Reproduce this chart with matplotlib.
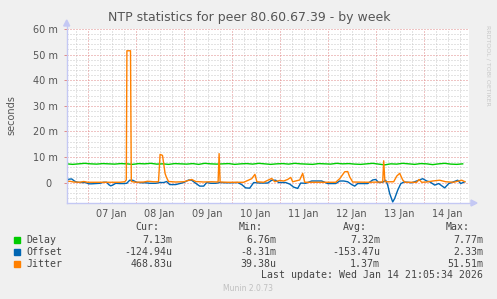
import numpy as np
import matplotlib
matplotlib.use("Agg")
import matplotlib.pyplot as plt
from matplotlib.patches import Rectangle, Polygon
from matplotlib.lines import Line2D

# ---- data (hours since 07 Jan 00:00, values in milliseconds) ----
day_labels = ["07 Jan", "08 Jan", "09 Jan", "10 Jan", "11 Jan", "12 Jan", "13 Jan", "14 Jan"]
ytick_vals = [0, 10, 20, 30, 40, 50, 60]
ytick_labels = ["0  ", "10 m", "20 m", "30 m", "40 m", "50 m", "60 m"]

delay_hours = np.arange(-10.5, 190, 3)
delay_vals = [7.3, 7.1, 7.3, 7.5, 7.3, 7.2, 7.4, 7.3, 7.2, 7.4,
              7.3, 7.1, 7.4, 7.3, 7.5, 7.2, 7.3, 7.1, 7.4, 7.3,
              7.2, 7.4, 7.1, 7.5, 7.3, 7.2, 7.3, 7.4, 7.1, 7.3,
              7.4, 7.2, 7.5, 7.3, 7.1, 7.3, 7.4, 7.2, 7.5, 7.3,
              7.2, 7.1, 7.4, 7.3, 7.2, 7.5, 7.3, 7.4, 7.2, 7.1,
              7.3, 7.5, 7.2, 6.9, 7.3, 7.2, 7.5, 7.3, 7.1, 7.4,
              7.3, 7.0, 7.3, 7.5, 7.2, 7.1, 7.3]

offset_hours = [-10.5, -9.5, -8, -6.5, -5, -3, -1, 0.5, 2, 4, 6, 8, 9.5, 10.5, 11.5,
                12.5, 14, 16, 18, 19.5, 21, 22.5, 24.5, 27, 29, 31, 34, 36, 38, 39.5,
                41, 44, 46, 48, 50.5, 52, 53.5, 56, 58, 59.5, 61.5, 64, 66, 69, 72,
                75, 77, 79, 81, 83, 86, 90, 92, 94, 95.5, 99, 101, 103, 105, 106.5,
                109, 112, 113.5, 117, 120, 124, 126, 128, 130, 132, 133.5, 135, 140,
                142.5, 144, 145.5, 147.5, 149, 150, 151, 152.5, 153.5, 155, 156.5, 158,
                160, 162, 164.5, 167.5, 169.5, 171, 173.5, 175.5, 178.5, 180.5, 183,
                185, 186.5, 188.5]
offset_vals = [0.6, 1.3, 1.4, 0.5, 0.1, 0.0, 0.0, -0.5, -0.5, -0.4, -0.3, 0.1, 0.1, -0.8, -1.3,
               -1.0, -0.3, -0.4, -0.4, -0.3, 0.9, 0.9, 0.1, -0.1, -0.1, -0.3, -0.3, 0.0, 0.0, 0.4,
               -0.8, -0.8, -0.4, 0.0, 1.0, 0.9, 0.0, -1.4, -1.4, 0.0, -0.3, -0.3, 0.0, -0.1, -0.1,
               0.0, -0.8, -2.1, -2.2, 0.0, -0.2, -0.2, 0.9, 0.9, 0.0, 0.0, -0.6, -1.8, -2.3, -0.2,
               -0.3, 0.6, 0.6, 0.6, -0.4, -0.4, 0.6, 0.6, 0.3, -0.8, -1.4, -0.4, -0.4,
               1.0, 1.2, 0.0, 0.1, 0.9, -1.0, -4.3, -7.6, -6.2, -3.0, -0.5, 0.2,
               0.1, -0.1, 0.6, 1.5, 0.6, 0.3, -1.0, -0.4, -2.1, -0.4, 0.3,
               0.9, -0.4, 0.3]

jitter_hours = [-10.5, -9, -7, -4, -2, 0, 4, 8, 12, 16, 18.5, 19.3, 19.6, 21.4, 21.8, 24,
                28, 30, 33, 35.4, 36.2, 37.4, 38.7, 39.4, 40.4, 44, 48, 52, 54, 58, 62,
                65.2, 65.7, 66.2, 70, 74, 78, 82, 83.6, 84.6, 88, 92, 93.5, 96, 98, 100,
                101.5, 102.5, 106, 107.5, 108.5, 112, 116, 124, 126, 128.5, 130, 131,
                132.5, 140, 147.5, 148, 148.6, 150, 153, 154.5, 156, 157.5, 158.6, 164.5,
                165.7, 167, 169.5, 172.5, 176, 179, 183, 185.5, 187, 188.6]
jitter_vals = [0.3, 0.5, 0.2, 0.1, 0.4, 0.1, 0.1, 0.1, 0.1, 0.1, 0.3, 1.0, 51.5, 51.5, 0.4, 0.1,
               0.2, 0.5, 0.3, 0.3, 11.0, 10.6, 3.5, 2.0, 0.4, 0.2, 0.3, 1.2, 0.4, 0.2, 0.3,
               0.2, 11.3, 0.2, 0.1, 0.1, 0.1, 1.5, 3.2, 0.3, 0.1, 1.6, 0.3, 0.8, 0.6, 1.2,
               2.0, 0.3, 1.0, 3.6, 0.1, 0.1, 0.1, 0.1, 1.5, 4.2, 4.3, 2.2,
               0.2, 0.1, 0.2, 8.5, 0.3, 0.3, 0.3, 2.5, 3.6, 1.0, 0.1, 0.1,
               1.2, 0.1, 0.2, 0.6, 0.9, 0.3, 0.1, 0.6, 0.9, 0.3]

legend_names = ["Delay", "Offset", "Jitter"]
legend_colors = ["#00CC00", "#0066B3", "#FF8000"]
cur_vals = ["7.13m", "-124.94u", "468.83u"]
min_vals = ["6.76m", "-8.31m", "39.38u"]
avg_vals = ["7.32m", "-153.47u", "1.37m"]
max_vals = ["7.77m", "2.33m", "51.51m"]

# ---- figure ----
W, H = 497, 299
fig = plt.figure(figsize=(W / 100, H / 100), dpi=100, facecolor="#F0F0F0")

def fx(x):
    return x / W

def fy(y):
    return 1 - y / H

x0, x1, ytop, ybot = 66.7, 468.5, 29, 203
ax = fig.add_axes([fx(x0), fy(ybot), (x1 - x0) / W, (ybot - ytop) / H])
ax.set_facecolor("white")
ax.set_xlim(-10.5, 190.4)
ax.set_ylim(-8, 60)
for s in ax.spines.values():
    s.set_visible(False)

# grid (dotted lines)
minor_col = "#C8C8C8"
major_col = "#E08A8A"
gkw = dict(lw=0.72, dashes=(1, 2))
for yv in np.arange(-8, 61, 2):
    if yv % 10 != 0:
        ax.axhline(yv, color=minor_col, zorder=0, **gkw)
for xv in np.arange(-6, 191, 6):
    if xv % 24 != 0:
        ax.axvline(xv, color=minor_col, zorder=0, **gkw)
for yv in ytick_vals:
    ax.axhline(yv, color=major_col, zorder=0.5, **gkw)
for xv in range(0, 169, 24):
    ax.axvline(xv, color=major_col, zorder=0.5, **gkw)

# data
ax.plot(delay_hours, delay_vals, color=legend_colors[0], lw=1.0, zorder=3)
ax.plot(offset_hours, offset_vals, color=legend_colors[1], lw=1.0, zorder=4)
ax.plot(jitter_hours, jitter_vals, color=legend_colors[2], lw=1.0, zorder=5)

# ticks
label_pos = [12 + 24 * i for i in range(len(day_labels))]
ax.set_xticks(label_pos)
ax.set_xticklabels(day_labels)
ax.set_yticks(ytick_vals)
ax.set_yticklabels(ytick_labels)
ax.tick_params(axis="x", length=0, pad=4, labelsize=7, labelcolor="#555555")
ax.tick_params(axis="y", length=2, width=0.7, color=major_col, pad=4,
               labelsize=7, labelcolor="#555555")

# axis lines with arrows
axis_col = "#C4C8F4"
fig.add_artist(Line2D([fx(x0), fx(x0)], [fy(ybot), fy(23)], color=axis_col, lw=1.0))
fig.add_artist(Line2D([fx(x0), fx(473)], [fy(ybot), fy(ybot)], color=axis_col, lw=1.0))
fig.add_artist(Polygon([[fx(x0 - 3), fy(26)], [fx(x0 + 3), fy(26)], [fx(x0), fy(20)]],
                       closed=True, color=axis_col, transform=fig.transFigure))
fig.add_artist(Polygon([[fx(471), fy(ybot - 3)], [fx(471), fy(ybot + 3)], [fx(477), fy(ybot)]],
                       closed=True, color=axis_col, transform=fig.transFigure))

# texts
fig.text(fx(249), fy(18), "NTP statistics for peer 80.60.67.39 - by week",
         ha="center", va="center", fontsize=9, color="#555555")
fig.text(fx(11), fy(115), "seconds", rotation=90, ha="center", va="center",
         fontsize=7, color="#555555")
fig.text(fx(488), fy(25), "RRDTOOL / TOBI OETIKER", rotation=-90, ha="center", va="top",
         fontsize=4.5, color="#C8C8C8")

mono = dict(family="DejaVu Sans Mono", fontsize=7.1, color="#444444")
hdr_y = 227.5
fig.text(fx(159), fy(hdr_y), "Cur:", ha="right", va="center", **mono)
fig.text(fx(263), fy(hdr_y), "Min:", ha="right", va="center", **mono)
fig.text(fx(367), fy(hdr_y), "Avg:", ha="right", va="center", **mono)
fig.text(fx(470), fy(hdr_y), "Max:", ha="right", va="center", **mono)
rows_y = [240, 252, 264]
for i, name in enumerate(legend_names):
    yy = rows_y[i]
    fig.add_artist(Rectangle((fx(14), fy(yy + 3)), 6 / W, 6 / H, color=legend_colors[i],
                             transform=fig.transFigure))
    fig.text(fx(26), fy(yy), name, ha="left", va="center", **mono)
    fig.text(fx(172.5), fy(yy), cur_vals[i], ha="right", va="center", **mono)
    fig.text(fx(276), fy(yy), min_vals[i], ha="right", va="center", **mono)
    fig.text(fx(380), fy(yy), avg_vals[i], ha="right", va="center", **mono)
    fig.text(fx(483), fy(yy), max_vals[i], ha="right", va="center", **mono)
fig.text(fx(483), fy(275.5), "Last update: Wed Jan 14 21:05:34 2026",
         ha="right", va="center", **mono)
fig.text(fx(248), fy(288.5), "Munin 2.0.73", ha="center", va="center",
         fontsize=5.5, color="#C0C0C0")

fig.savefig("out.png", dpi=100, facecolor=fig.get_facecolor())
